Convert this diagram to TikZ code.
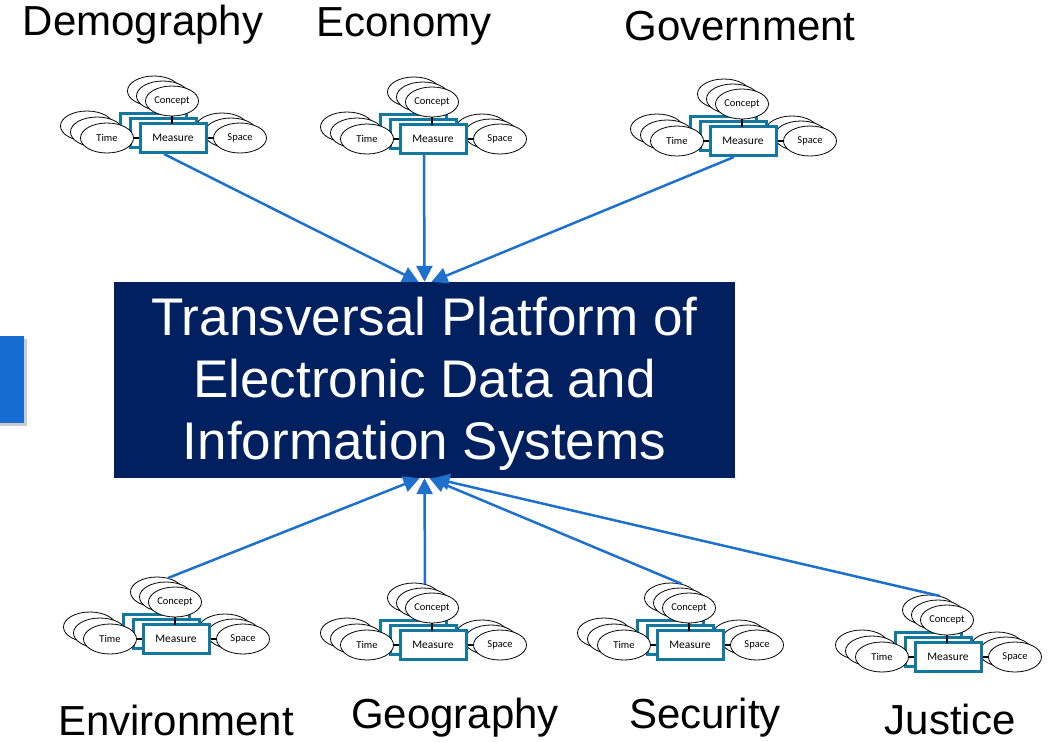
\documentclass[tikz,border=0pt]{standalone}
\usepackage{fontspec}
\setmainfont{Liberation Sans}
\newfontfamily\carl{Carlito}
\usetikzlibrary{shapes.geometric,arrows.meta,calc,shadows}
\definecolor{navy}{RGB}{0,32,96}
\definecolor{arrowblue}{RGB}{30,112,205}
\definecolor{mcol}{RGB}{18,120,160}
\definecolor{sideblue}{RGB}{22,108,208}
\tikzset{
  ell/.style={draw=black, line width=0.8pt, fill=white, ellipse, minimum width=53pt, minimum height=30pt, inner sep=0pt, font=\carl\fontsize{10.5}{11}\selectfont},
  mbox/.style={draw=mcol, line width=3pt, fill=white, minimum width=66pt, minimum height=29pt, inner sep=0pt, font=\carl\fontsize{11.5}{12}\selectfont},
  tick/.style={draw=black, line width=1.2pt},
  big/.style={font=\fontsize{42}{48}\selectfont, inner sep=0pt},
  conn/.style={draw=arrowblue, line width=2.5pt, -{Triangle[length=16pt,width=16pt]}},
  cluster/.pic={
    \node[ell] at (49,-10) {};
    \node[ell] at (58,-5) {};
    \node[ell] at (-86,-12) {};
    \node[ell] at (-76,-6) {};
    \node[mbox] at (-20,-10) {};
    \node[mbox] at (-10,-5) {};
    \node[mbox] (-m) at (0,0) {Measure};
    \node[ell] at (-19,-47) {};
    \node[ell] at (-10,-42) {};
    \node[ell] (-c) at (-1,-37) {Concept};
    \node[ell] (-t) at (-66,0) {Time};
    \node[ell] (-s) at (67,0) {Space};
    \draw[tick] (-t.east) -- (-m.west);
    \draw[tick] (-m.east) -- (-s.west);
    \draw[tick] (-c.south) -- (-1,-14.5);
    \coordinate (-top) at (-8,-61);
    \coordinate (-bot) at (-9,16);
  }
}
\begin{document}
\begin{tikzpicture}[x=1pt,y=-1pt]
\useasboundingbox (0,0) rectangle (1053,742);
% side block
\node[fill=sideblue, drop shadow={opacity=0.4,shadow xshift=3pt,shadow yshift=-3pt}, minimum width=34pt, minimum height=87pt, inner sep=0pt] (side) at (7,379.5) {};
% main
\node[fill=navy, minimum width=621pt, minimum height=196pt, inner sep=0pt] (main) at (424.5,380) {};
\node[text=white, align=center, font=\fontsize{53}{62}\selectfont, inner sep=0pt] (maintext) at (424.5,384) {Transversal Platform of\\Electronic Data and\\Information Systems};
% clusters
\pic (demo) at (173,138) {cluster};
\pic (econ) at (433,139) {cluster};
\pic (gov) at (743,141) {cluster};
\pic (env) at (176,639) {cluster};
\pic (geo) at (433,645) {cluster};
\pic (sec) at (690,645) {cluster};
\pic (jus) at (948,657) {cluster};
% labels
\node[big] (ldemo) at (143,25) {Demography};
\node[big] (lecon) at (404,26) {Economy};
\node[big] (lgov) at (740,26) {Government};
\node[big] (lenv) at (176,720) {Environment};
\node[big] (lgeo) at (455,718) {Geography};
\node[big] (lsec) at (705,718) {Security};
\node[big] (ljus) at (950,719) {Justice};
% arrow end points
\coordinate (t1) at ($(main.north)+(-6,0)$);
\coordinate (t2) at ($(main.north)+(0,0)$);
\coordinate (t3) at ($(main.north)+(7,0)$);
\coordinate (b1) at ($(main.south)+(-5,0)$);
\coordinate (b2) at ($(main.south)+(0,0)$);
\coordinate (b3) at ($(main.south)+(5,0)$);
\coordinate (b4) at ($(main.south)+(9,0)$);
% connectors
\draw[conn] (demo-bot) -- (t1);
\draw[conn] (econ-bot) -- (t2);
\draw[conn] (gov-bot) -- (t3);
\draw[conn] (env-top) -- (b1);
\draw[conn] (geo-top) -- (b2);
\draw[conn] (sec-top) -- (b3);
\draw[conn] (jus-top) -- (b4);
\end{tikzpicture}
\end{document}
